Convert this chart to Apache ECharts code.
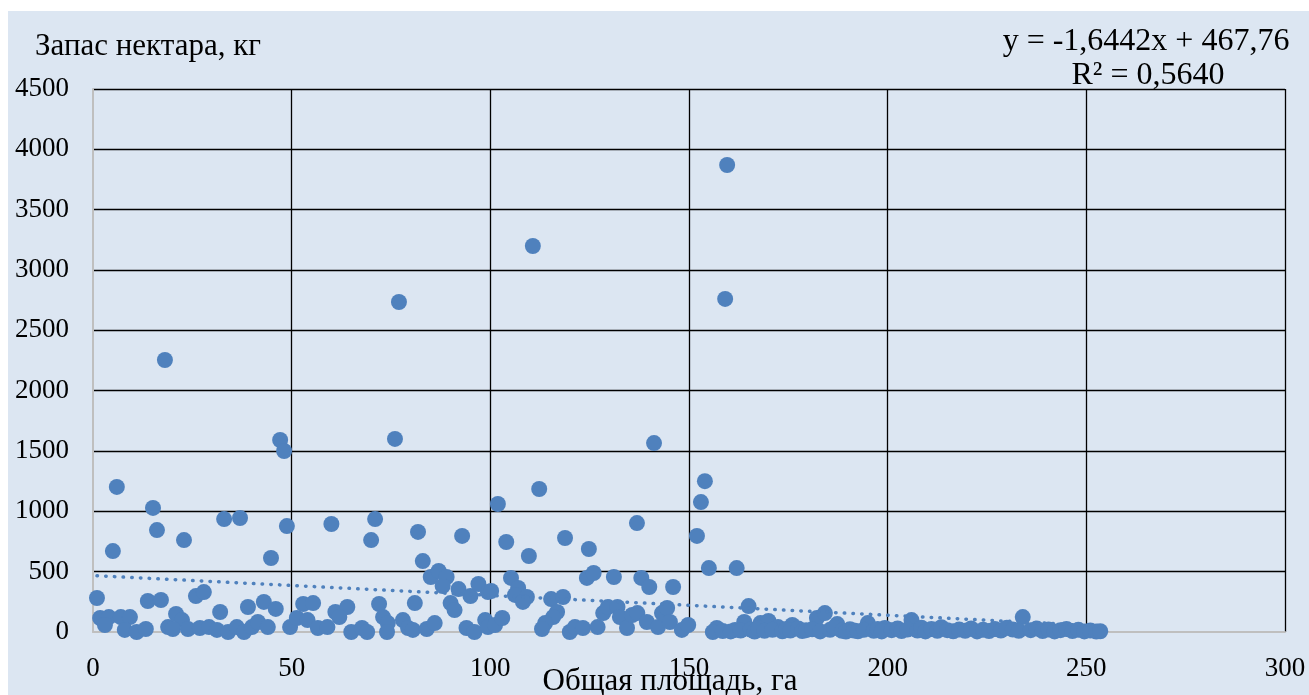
<!DOCTYPE html>
<html>
<head>
<meta charset="utf-8">
<script src="https://cdn.jsdelivr.net/npm/echarts@6/dist/echarts.min.js"></script>
<style>
  html, body { margin: 0; padding: 0; background: #ffffff; }
  #main { position: absolute; left: 8px; top: 11px; width: 1301px; height: 684px; }
</style>
</head>
<body>
<div id="main"></div>
<script>
// Общая площадь, га
const areaHa = [
  159.6, 110.7, 159.1, 77.0, 18.1, 47.1, 76.0, 48.1, 141.2, 154.0, 153.0, 6.0,
  112.3, 101.9, 15.1, 33.0, 37.0, 16.1, 71.0, 60.0, 48.8, 81.8, 152.0, 136.9,
  92.9, 70.0, 22.9, 104.0, 118.8, 124.8, 5.0, 109.7, 44.8, 83.0, 155.0, 162.0,
  // низкие значения 0-100 га
  1.0, 25.9, 27.9, 13.8, 17.1, 32.0, 39.0, 43.0, 46.0, 1.8, 4.0, 3.0,
  7.0, 9.3, 8.0, 11.0, 13.3, 20.9, 22.4, 18.9, 20.1, 23.9, 26.9, 29.2,
  31.2, 34.0, 36.2, 38.0, 40.0, 41.5, 44.0, 49.6,
  85.0, 87.0, 89.0, 88.0, 92.0, 95.0, 97.0, 99.4, 52.9, 55.4, 61.0, 64.0,
  62.0, 72.0, 73.0, 81.0, 90.0, 91.0, 51.3, 54.0, 56.6, 59.0, 65.0, 67.7,
  69.0, 74.2, 74.0, 78.0, 79.3, 80.5, 84.0, 86.0, 94.0, 96.0, 98.7, 99.4,
  // 100-150 га
  105.2, 100.2, 107.0, 106.2, 109.2, 108.2, 115.3, 118.3, 124.3, 126.0, 131.1, 138.0,
  140.0, 146.0, 116.8, 115.8, 113.8, 113.0, 101.2, 103.0, 120.0, 121.3, 123.3, 127.0,
  128.4, 129.6, 132.0, 132.6, 134.4, 135.7, 137.0, 139.4, 142.2, 143.2, 144.5, 145.2,
  148.2, 149.8,
  // 150-255 га
  165.0, 157.0, 156.0, 161.6, 163.9, 168.0, 170.0, 172.4, 176.0, 182.2, 184.2, 187.3,
  195.0, 199.3, 206.0, 234.0,
  158.5, 160.5, 163.0, 165.5, 166.5, 167.5, 169.0, 171.0, 173.5, 174.5, 175.5, 177.5,
  178.5, 179.5, 181.0, 183.0, 185.5, 186.5, 188.5, 189.5, 190.5, 191.5, 192.5, 194.0,
  196.5, 197.5, 198.5, 201.0, 202.5, 203.5, 205.0, 207.5, 208.5, 209.5, 211.0, 212.5,
  213.5, 215.0, 216.5, 218.0, 219.5, 221.0, 222.5, 224.0, 225.5, 227.0, 228.5, 230.0,
  231.5, 233.0, 236.0, 237.5, 239.0, 240.5, 242.0, 243.5, 245.0, 246.5, 248.0, 249.5,
  251.0, 252.5, 253.5
];

// Запас нектара, кг
const nectarKg = [
  3870, 3199, 2760, 2735, 2254, 1591, 1600, 1500, 1566, 1250, 1077, 1202,
  1185, 1061, 1028, 936, 945, 845, 936, 895, 878, 829, 796, 903,
  796, 762, 762, 746, 779, 688, 671, 630, 613, 588, 530, 530,
  282, 298, 331, 257, 265, 166, 207, 249, 191, 116, 124, 58,
  124, 124, 17, 0, 25, 149, 99, 41, 25, 25, 33, 41,
  17, 0, 41, 0, 41, 83, 41, 41,
  456, 506, 456, 381, 356, 298, 398, 331, 232, 240, 166, 207,
  124, 232, 124, 240, 240, 182, 116, 99, 33, 41, 0, 33,
  0, 74, 0, 99, 33, 17, 25, 74, 33, 0, 99, 41,
  448, 340, 365, 307, 290, 249, 273, 290, 448, 489, 456, 448,
  373, 373, 166, 124, 74, 25, 58, 116, 0, 41, 33, 41,
  157, 207, 207, 124, 33, 141, 157, 83, 41, 157, 199, 83,
  17, 58,
  215, 33, 0, 17, 83, 74, 91, 41, 58, 116, 157, 66,
  74, 33, 99, 124,
  8, 5, 12, 20, 4, 30, 10, 18, 6, 25, 12, 30,
  8, 15, 22, 5, 18, 35, 10, 4, 22, 12, 6, 18,
  10, 25, 5, 15, 30, 8, 20, 12, 35, 5, 25, 10,
  40, 15, 6, 20, 10, 30, 5, 18, 8, 25, 12, 35,
  20, 10, 15, 30, 8, 20, 5, 15, 25, 8, 18, 5,
  12, 4, 6
];

// линия тренда: y = -1,6442x + 467,76
const trendSlope = -1.6442;
const trendIntercept = 467.76;
const trendX = [1.0, 253.5];

const xTicks = [0, 50, 100, 150, 200, 250, 300];
const yTicks = [0, 500, 1000, 1500, 2000, 2500, 3000, 3500, 4000, 4500];

const points = areaHa.map((x, i) => [x, nectarKg[i]]);
const trendLine = trendX.map(x => [x, trendSlope * x + trendIntercept]);

const serif = "'Liberation Serif', 'Times New Roman', serif";
const blue = '#4f81bd';

const myChart = echarts.init(document.getElementById('main'));

const option = {
  backgroundColor: '#dce6f2',
  animation: false,
  textStyle: { fontFamily: serif },
  grid: { left: 85, right: 24, top: 78, bottom: 63 },
  xAxis: {
    type: 'value',
    min: xTicks[0],
    max: xTicks[xTicks.length - 1],
    interval: 50,
    axisLine: { show: true, lineStyle: { color: '#bfbfbf', width: 2 } },
    axisTick: { show: false },
    axisLabel: { fontSize: 27, color: '#000', margin: 23, fontFamily: serif, formatter: v => String(v) },
    splitLine: { show: true, showMinLine: false, lineStyle: { color: '#000', width: 1.3 } }
  },
  yAxis: {
    type: 'value',
    min: yTicks[0],
    max: yTicks[yTicks.length - 1],
    interval: 500,
    axisLine: { show: true, lineStyle: { color: '#bfbfbf', width: 2 } },
    axisTick: { show: false },
    axisLabel: { fontSize: 27, color: '#000', margin: 24, fontFamily: serif, formatter: v => String(v) },
    splitLine: { show: true, showMinLine: false, lineStyle: { color: '#000', width: 1.3 } }
  },
  graphic: [
    {
      type: 'text', x: 27, y: 36,
      style: { text: 'Запас нектара, кг', font: '31px ' + serif, fill: '#000', align: 'left', verticalAlign: 'middle' }
    },
    {
      type: 'text', x: 1138, y: 31,
      style: { text: 'y = -1,6442x + 467,76', font: '32px ' + serif, fill: '#000', align: 'center', verticalAlign: 'middle' }
    },
    {
      type: 'text', x: 1140, y: 65,
      style: { text: 'R² = 0,5640', font: '32px ' + serif, fill: '#000', align: 'center', verticalAlign: 'middle' }
    },
    {
      type: 'text', x: 662, y: 671,
      style: { text: 'Общая площадь, га', font: '31px ' + serif, fill: '#000', align: 'center', verticalAlign: 'middle' }
    }
  ],
  series: [
    {
      type: 'line',
      data: trendLine,
      symbol: 'none',
      z: 3,
      lineStyle: { color: blue, width: 3.5, type: [0.5, 8.2], cap: 'round' }
    },
    {
      type: 'scatter',
      data: points,
      symbol: 'circle',
      symbolSize: 16,
      z: 2,
      itemStyle: { color: blue, opacity: 1 }
    }
  ]
};

myChart.setOption(option);
</script>
</body>
</html>
